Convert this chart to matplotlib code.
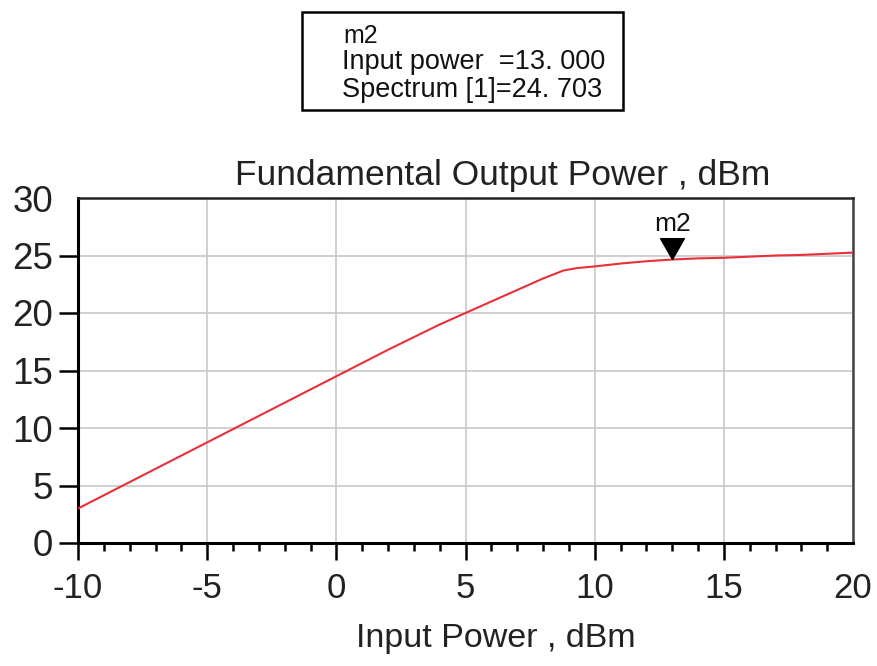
import matplotlib
matplotlib.use("Agg")
import matplotlib.pyplot as plt
from matplotlib.patches import Rectangle
from matplotlib.ticker import MultipleLocator
from matplotlib.path import Path

plt.rcParams['font.family'] = ['Liberation Sans', 'DejaVu Sans']

input_power = [-10, -8, -6, -4, -2, 0, 2, 4, 5, 6, 7, 8, 8.8, 9.3, 10, 11, 12, 13, 14, 15, 16, 17, 18, 19, 20]
output_power = [3.0, 5.3, 7.6, 9.9, 12.2, 14.5, 16.8, 19.0, 20.0, 21.0, 22.0, 23.0, 23.7, 23.9, 24.05, 24.3, 24.5, 24.65, 24.75, 24.8, 24.9, 25.0, 25.05, 25.15, 25.25]
marker_x = 13.0
marker_y = 24.703
x_ticks = [-10, -5, 0, 5, 10, 15, 20]
y_ticks = [0, 5, 10, 15, 20, 25, 30]

W, H = 877, 666
fig = plt.figure(figsize=(W / 100, H / 100), dpi=100)
ax = fig.add_axes([78 / W, 1 - 543 / H, (853 - 78) / W, (543 - 198) / H])

ax.plot(input_power, output_power, color='#e8303a', lw=1.5, zorder=3)
# downward triangle whose tip sits on the data point
tri = Path([(-0.57, 1.0), (0.57, 1.0), (0.0, 0.0), (-0.57, 1.0)],
           [Path.MOVETO, Path.LINETO, Path.LINETO, Path.CLOSEPOLY])
ax.plot([marker_x], [marker_y], marker=tri, color='black', markersize=30,
        linestyle='none', zorder=4)
ax.annotate('m2', xy=(marker_x, marker_y), xytext=(0, 25), textcoords='offset points',
            ha='center', va='center', fontsize=19, color='#111111')

ax.set_xlim(-10, 20)
ax.set_ylim(0, 30)
ax.set_xticks(x_ticks)
ax.set_yticks(y_ticks)
ax.set_xticklabels([str(v) for v in x_ticks])
ax.set_yticklabels([str(v) for v in y_ticks])
ax.xaxis.set_minor_locator(MultipleLocator(1))
ax.grid(True, which='major', color='#c8c8c8', lw=1.2)
ax.set_axisbelow(True)

ax.tick_params(axis='x', which='major', direction='out', length=12, width=1.8,
               labelsize=25, pad=9, colors='black')
ax.tick_params(axis='x', which='minor', direction='out', length=6, width=1.8)
ax.tick_params(axis='y', which='major', direction='out', length=14, width=1.8,
               labelsize=26.5, pad=4)
ax.yaxis.get_major_ticks()[-1].tick1line.set_visible(False)
ax.xaxis.get_major_ticks()[-1].tick1line.set_visible(False)
for lab in ax.get_xticklabels() + ax.get_yticklabels():
    lab.set_color('#222222')

for s in ['left', 'bottom']:
    ax.spines[s].set_linewidth(2.2)
    ax.spines[s].set_color('black')
ax.spines['top'].set_linewidth(1.8)
ax.spines['top'].set_color('#222222')
ax.spines['right'].set_linewidth(1.8)
ax.spines['right'].set_color('#444444')

fig.text(503 / W, 1 - 176 / H, 'Fundamental Output Power , dBm', ha='center', va='center',
         fontsize=25.5, color='#222222')
fig.text(496 / W, 1 - 638 / H, 'Input Power , dBm', ha='center', va='center',
         fontsize=24.5, color='#222222')

box = Rectangle((302 / W, 1 - 110 / H), (623 - 302) / W, (110 - 12) / H,
                transform=fig.transFigure, fill=False, edgecolor='black', lw=1.8)
fig.patches.append(box)
fig.text(343 / W, 1 - 36 / H, 'm2', ha='left', va='center', fontsize=18, color='#111111')
fig.text(342 / W, 1 - 62 / H, 'Input power  =13. 000', ha='left', va='center', fontsize=19.5,
         color='#111111')
fig.text(342 / W, 1 - 90 / H, 'Spectrum [1]=24. 703', ha='left', va='center', fontsize=19.5,
         color='#111111')

fig.savefig('out.png', dpi=100)
